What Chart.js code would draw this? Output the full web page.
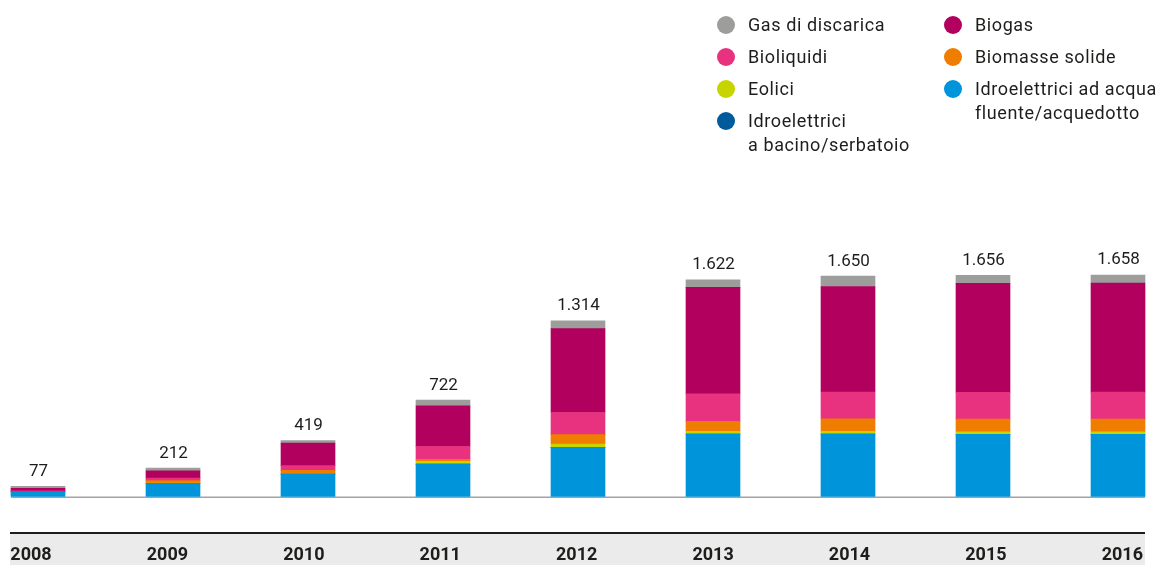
<!DOCTYPE html>
<html lang="it">
<head>
<meta charset="utf-8">
<title>Impianti</title>
<script src="https://cdn.jsdelivr.net/npm/chart.js@4.4.1/dist/chart.umd.min.js"></script>
<style>
  body { margin: 0; background: #fff; font-family: Roboto, 'Noto Sans', sans-serif; }
  #wrap { position: relative; width: 1164px; height: 565px; }
  #legend .leg { position: absolute; font-size: 18px; line-height: 23.5px; letter-spacing: 0.6px; color: #1d1d1b; white-space: pre; }
  #legend .leg i { position: absolute; left: -31px; top: 3px; width: 18px; height: 18px; border-radius: 50%; }
</style>
</head>
<body>
<div id="wrap">
  <canvas id="chart"></canvas>
  <div id="legend"></div>
</div>
<script>
// anni
const years = ['2008', '2009', '2010', '2011', '2012', '2013', '2014', '2015', '2016'];
const totals = [77, 212, 419, 722, 1314, 1622, 1650, 1656, 1658];

// serie (dal basso verso l'alto)
const idroFluente = [37, 99, 167, 242, 368, 467, 467, 465, 465];
const idroBacino = [0, 0, 0, 0, 0, 0, 0, 0, 0];
const eolici = [0, 2, 3, 22, 25, 20, 20, 19, 19];
const biomasse = [2, 18, 25, 15, 70, 75, 95, 95, 95];
const bioliquidi = [3, 18, 36, 95, 166, 206, 200, 200, 202];
const biogas = [20, 55, 168, 305, 628, 797, 790, 817, 817];
const gasDiscarica = [15, 20, 20, 43, 57, 57, 78, 60, 60];

const series = [
  { label: 'Idroelettrici ad acqua\nfluente/acquedotto', data: idroFluente, color: '#0095db' },
  { label: 'Idroelettrici\na bacino/serbatoio', data: idroBacino, color: '#005a9b' },
  { label: 'Eolici', data: eolici, color: '#c8d400' },
  { label: 'Biomasse solide', data: biomasse, color: '#ef7d00' },
  { label: 'Bioliquidi', data: bioliquidi, color: '#e8327f' },
  { label: 'Biogas', data: biogas, color: '#b1005d' },
  { label: 'Gas di discarica', data: gasDiscarica, color: '#9d9d9c' },
];

// ordine della legenda: due colonne
const legendCols = [
  ['Gas di discarica', 'Bioliquidi', 'Eolici', 'Idroelettrici\na bacino/serbatoio'],
  ['Biogas', 'Biomasse solide', 'Idroelettrici ad acqua\nfluente/acquedotto'],
];

const BAR_W = 54;

function fmt(n) {
  return String(n).replace(/\B(?=(\d{3})+(?!\d))/g, '.');
}

const decorPlugin = {
  id: 'decor',
  beforeDatasetsDraw(chart) {
    const { ctx, scales: { x, y } } = chart;
    const base = y.getPixelForValue(0);
    ctx.save();
    ctx.strokeStyle = '#a3a3a3';
    ctx.lineWidth = 1.5;
    ctx.beginPath();
    ctx.moveTo(x.getPixelForValue(0) - BAR_W / 2, base + 0.75);
    ctx.lineTo(x.getPixelForValue(years.length - 1) + BAR_W / 2, base + 0.75);
    ctx.stroke();
    ctx.restore();
  },
  afterDatasetsDraw(chart) {
    const { ctx, scales: { x, y } } = chart;
    const left = x.getPixelForValue(0) - BAR_W / 2 - 1;
    const right = x.getPixelForValue(years.length - 1) + BAR_W / 2;
    ctx.save();
    // totali sopra le barre
    ctx.fillStyle = '#1d1d1b';
    ctx.font = '17px Roboto';
    ctx.textAlign = 'center';
    ctx.textBaseline = 'alphabetic';
    totals.forEach((t, i) => {
      ctx.fillText(fmt(t), x.getPixelForValue(i) + 0.5, y.getPixelForValue(t) - 10.5);
    });
    // fascia grigia con gli anni
    ctx.fillStyle = '#ebebeb';
    ctx.fillRect(left, 534, right - left, 31);
    ctx.fillStyle = '#1d1d1b';
    ctx.fillRect(left, 532, right - left, 2);
    ctx.font = 'bold 18px Roboto';
    years.forEach((yr, i) => {
      const shift = -7 + 11.3 * i / (years.length - 1);
      ctx.fillText(yr, x.getPixelForValue(i) + shift, 560);
    });
    ctx.restore();
  },
};

new Chart(document.getElementById('chart'), {
  type: 'bar',
  data: {
    labels: years,
    datasets: series.map((s) => ({
      label: s.label,
      data: s.data,
      backgroundColor: s.color,
      borderWidth: 0,
      barThickness: BAR_W,
      clip: false,
    })),
  },
  options: {
    responsive: true,
    maintainAspectRatio: false,
    animation: false,
    layout: { padding: { top: 162.5, bottom: 68.5, left: 38, right: 46 } },
    plugins: { legend: { display: false }, tooltip: { enabled: false } },
    scales: {
      x: { stacked: true, offset: false, display: false },
      y: { stacked: true, min: 0, max: 2500, display: false },
    },
  },
  plugins: [decorPlugin],
});

// legenda HTML
const legendEl = document.getElementById('legend');
const colX = [748, 975];
legendCols.forEach((col, c) => {
  col.forEach((name, r) => {
    const s = series.find((d) => d.label === name);
    const item = document.createElement('div');
    item.className = 'leg';
    item.style.left = colX[c] + 'px';
    item.style.top = (25 + 32 * r - 12) + 'px';
    item.textContent = name;
    const dot = document.createElement('i');
    dot.style.background = s.color;
    item.appendChild(dot);
    legendEl.appendChild(item);
  });
});
</script>
</body>
</html>
